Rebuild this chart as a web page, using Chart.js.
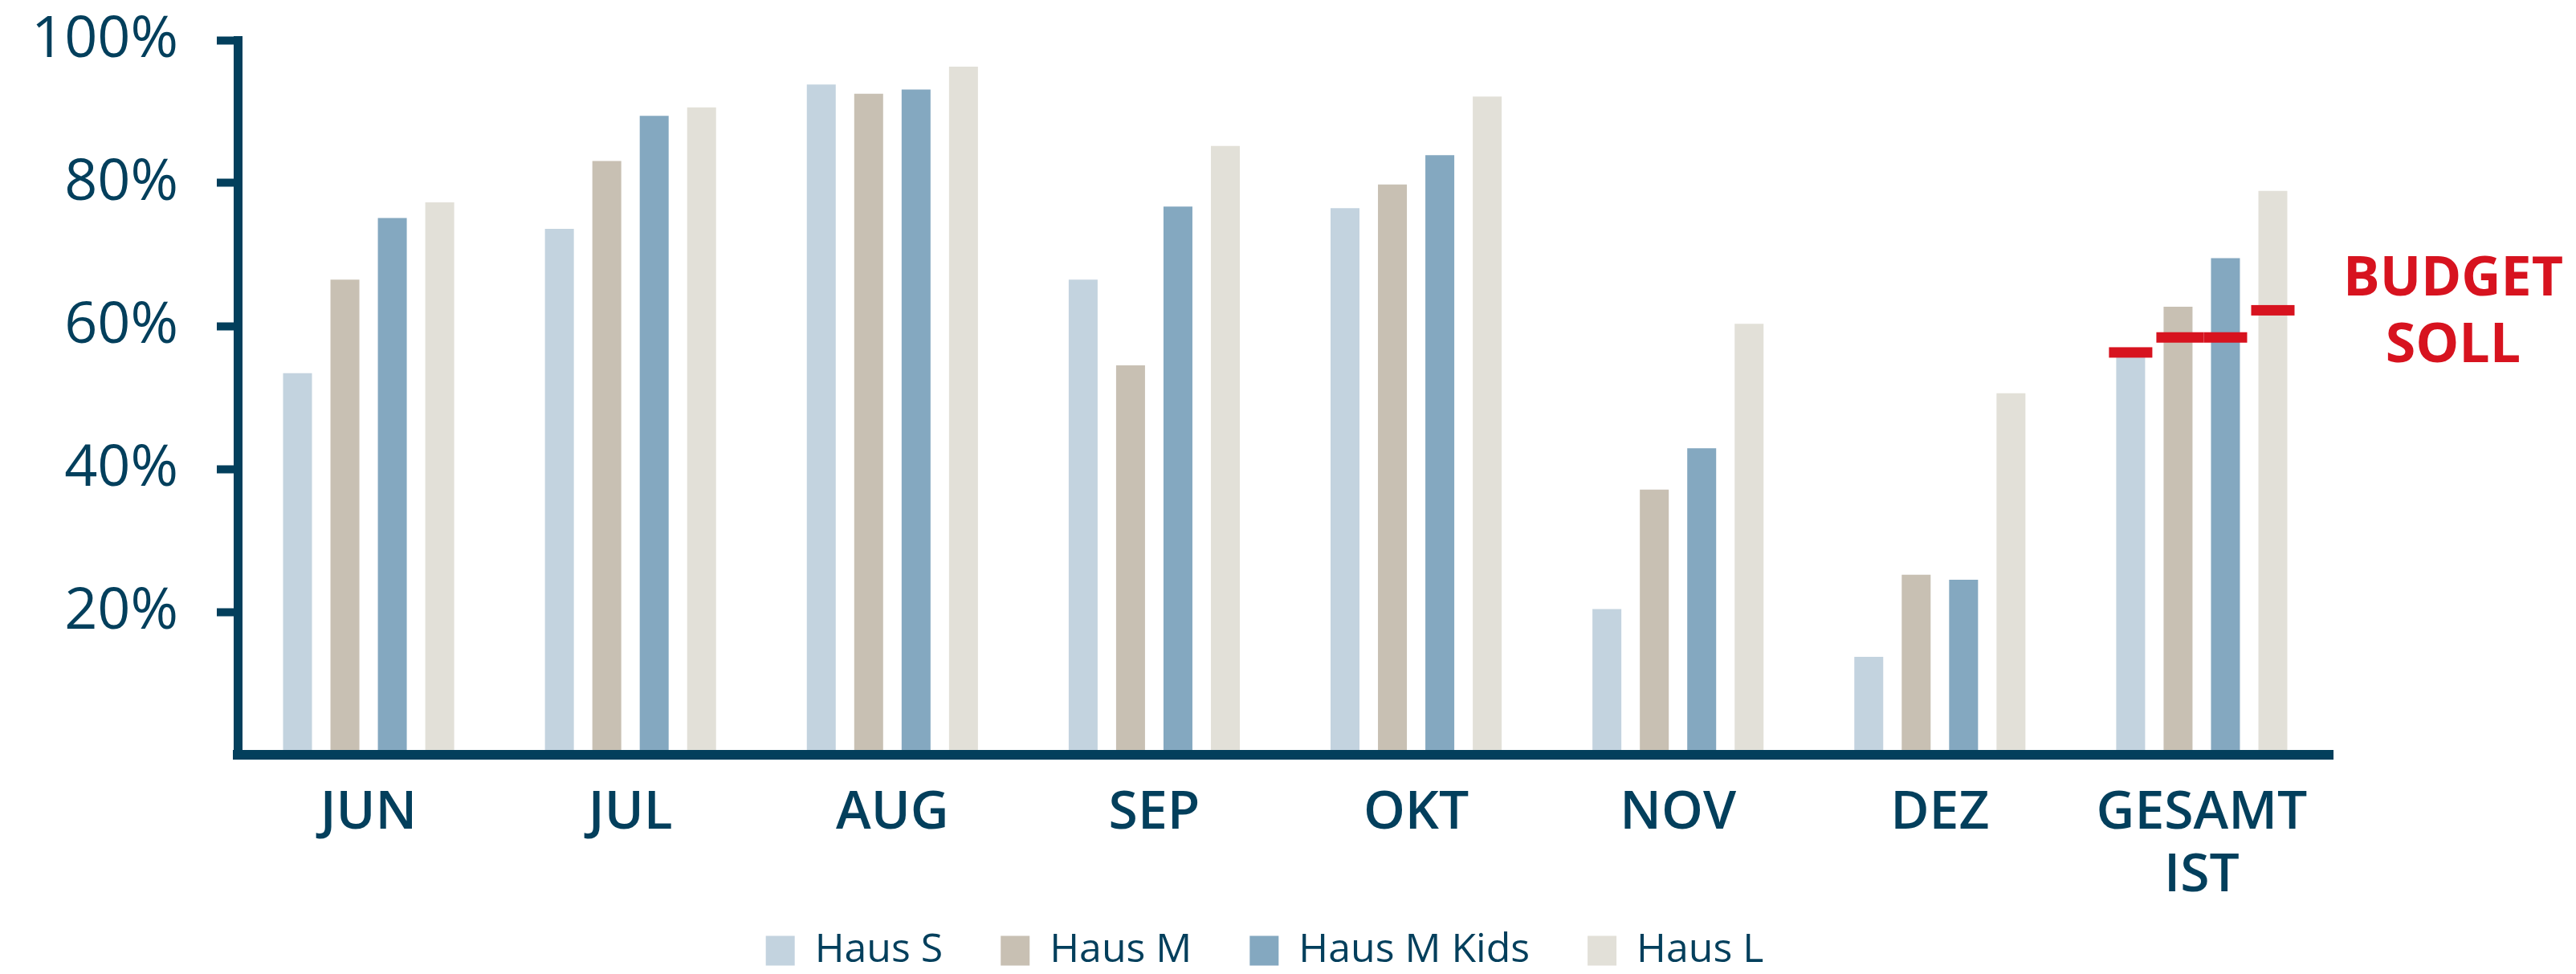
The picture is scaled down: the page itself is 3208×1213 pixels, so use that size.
<!DOCTYPE html>
<html>
<head>
<meta charset="utf-8">
<script src="https://cdn.jsdelivr.net/npm/chart.js@4/dist/chart.umd.min.js"></script>
<style>
  html, body { margin: 0; padding: 0; background: #ffffff; }
  #wrap { width: 3208px; height: 1213px; }
</style>
</head>
<body>
<div id="wrap"><canvas id="c" width="3208" height="1213"></canvas></div>
<script>
const categories = ['JUN', 'JUL', 'AUG', 'SEP', 'OKT', 'NOV', 'DEZ', ['GESAMT', 'IST']];
const seriesNames = ['Haus S', 'Haus M', 'Haus M Kids', 'Haus L'];
const hausS     = [53.4, 73.6, 93.8, 66.5, 76.5, 20.4, 13.7, 55.9];
const hausM     = [66.5, 83.1, 92.5, 54.5, 79.8, 37.1, 25.2, 62.7];
const hausMKids = [75.1, 89.4, 93.1, 76.7, 83.9, 42.9, 24.5, 69.5];
const hausL     = [77.3, 90.6, 96.3, 85.2, 92.1, 60.3, 50.6, 78.9];
const budgetSoll = [56.3, 58.4, 58.4, 62.2];
const budgetLabel = ['BUDGET', 'SOLL'];
const yTickValues = [20, 40, 60, 80, 100];

const navy = '#033f5c';
const red = '#d7131f';
const colors = ['#c3d3df', '#c8c0b3', '#84a8c0', '#e2e0d8'];

const budgetPlugin = {
  id: 'budgetSoll',
  beforeDraw(chart) {
    // let the two-line category label extend below the axis box
    chart.scales.x.bottom = chart.height;
  },
  afterDatasetsDraw(chart) {
    const ctx = chart.ctx;
    const ys = chart.scales.y;
    const idx = categories.length - 1;
    const ext = 9;
    ctx.save();
    ctx.fillStyle = red;
    budgetSoll.forEach((v, i) => {
      const bar = chart.getDatasetMeta(i).data[idx];
      const left = bar.x - bar.width / 2 - ext;
      let right = bar.x + bar.width / 2 + ext;
      if (i + 1 < budgetSoll.length && budgetSoll[i + 1] === v) {
        const nb = chart.getDatasetMeta(i + 1).data[idx];
        right = nb.x - nb.width / 2 - ext;
      }
      const y = ys.getPixelForValue(v);
      ctx.fillRect(left, y - 6.5, right - left, 13);
    });
    ctx.font = '700 68px "Open Sans"';
    ctx.textAlign = 'center';
    ctx.textBaseline = 'middle';
    const yRef = ys.getPixelForValue(budgetSoll[budgetSoll.length - 1]);
    const tx = chart.chartArea.right + 150;
    ctx.fillText(budgetLabel[0], tx, yRef - 38);
    ctx.fillText(budgetLabel[1], tx, yRef + 45);
    ctx.restore();
  }
};

Chart.defaults.font.family = "'Open Sans', sans-serif";
Chart.defaults.color = navy;

new Chart(document.getElementById('c'), {
  type: 'bar',
  data: {
    labels: categories,
    datasets: [hausS, hausM, hausMKids, hausL].map((d, i) => ({
      label: seriesNames[i],
      data: d,
      backgroundColor: colors[i],
      borderWidth: 0,
      categoryPercentage: 0.724,
      barPercentage: 0.61
    }))
  },
  options: {
    responsive: false,
    devicePixelRatio: 1,
    animation: false,
    layout: { padding: { top: 50, left: 0, right: 58, bottom: -6 } },
    plugins: {
      tooltip: { enabled: false },
      legend: {
        position: 'bottom',
        labels: {
          boxWidth: 36,
          boxHeight: 37,
          padding: 72,
          color: navy,
          font: { family: "'Open Sans', sans-serif", size: 50 }
        }
      }
    },
    scales: {
      x: {
        grid: { display: false, drawTicks: false },
        border: { display: true, color: navy, width: 12, z: 1 },
        ticks: {
          color: navy,
          autoSkip: false,
          maxRotation: 0,
          padding: 34,
          font: { family: "'Open Sans', sans-serif", size: 66, weight: '600', lineHeight: 1.18 }
        },
        afterFit: s => { s.height = 147; s.paddingLeft = 0; s.paddingRight = 0; }
      },
      y: {
        min: 0,
        max: 100,
        ticks: {
          stepSize: 20,
          color: navy,
          padding: 48,
          font: { family: "'Open Sans', sans-serif", size: 72 },
          callback: v => v + '%'
        },
        afterBuildTicks: axis => {
          axis.ticks = axis.ticks.filter(t => yTickValues.includes(t.value));
        },
        grid: { display: true, drawOnChartArea: false, drawTicks: true, tickLength: 26, tickWidth: 10, tickColor: navy },
        border: { display: true, color: navy, width: 11, z: 1 },
        afterFit: s => { s.width = 296; s.paddingTop = 0; s.paddingBottom = 0; }
      },
      yr: {
        position: 'right',
        display: true,
        min: 0,
        max: 100,
        grid: { display: false, drawTicks: false },
        border: { display: false },
        ticks: { display: false },
        afterFit: s => { s.width = 245; s.paddingTop = 0; s.paddingBottom = 0; }
      }
    }
  },
  plugins: [budgetPlugin]
});
</script>
</body>
</html>
